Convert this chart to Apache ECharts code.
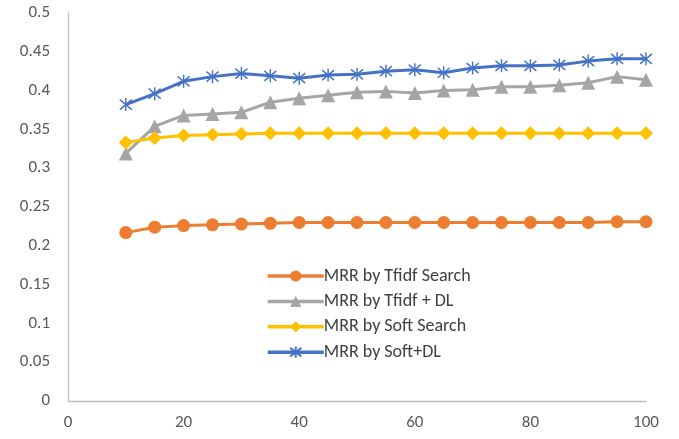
<!DOCTYPE html>
<html>
<head>
<meta charset="utf-8">
<script src="https://cdn.jsdelivr.net/npm/echarts@6/dist/echarts.min.js"></script>
<style>
  html, body { margin: 0; padding: 0; background: #fff; }
  #chart { width: 679px; height: 439px; }
</style>
</head>
<body>
<div id="chart"></div>
<script>
// Number of candidates considered (x axis)
const topK = [10, 15, 20, 25, 30, 35, 40, 45, 50, 55, 60, 65, 70, 75, 80, 85, 90, 95, 100];

// Series names
const seriesNames = ['MRR by Tfidf Search', 'MRR by Tfidf + DL', 'MRR by Soft Search', 'MRR by Soft+DL'];

// MRR values per series
const mrrTfidf = [0.217, 0.224, 0.226, 0.227, 0.228, 0.229, 0.230, 0.230, 0.230, 0.230, 0.230, 0.230, 0.230, 0.230, 0.230, 0.230, 0.230, 0.231, 0.231];
const mrrTfidfDL = [0.319, 0.354, 0.368, 0.370, 0.372, 0.385, 0.390, 0.394, 0.398, 0.399, 0.397, 0.400, 0.401, 0.405, 0.405, 0.407, 0.410, 0.418, 0.414];
const mrrSoft = [0.333, 0.339, 0.342, 0.343, 0.344, 0.345, 0.345, 0.345, 0.345, 0.345, 0.345, 0.345, 0.345, 0.345, 0.345, 0.345, 0.345, 0.345, 0.345];
const mrrSoftDL = [0.382, 0.396, 0.412, 0.418, 0.422, 0.419, 0.416, 0.420, 0.421, 0.425, 0.427, 0.423, 0.429, 0.432, 0.432, 0.433, 0.438, 0.441, 0.441];

const colors = ['#ED7D31', '#A5A5A5', '#FFC000', '#4472C4'];
const FONT = '"Liberation Sans Narrow", Carlito, "Liberation Sans", sans-serif';

// Asterisk marker: an X crossed by a vertical stroke
const asterisk = 'path://M0,0L10,10M10,0L0,10M5,-1.5L5,11.5';

function pairs(vals) {
  return topK.map((k, i) => [k, vals[i]]);
}

function lineSeries(idx, vals, symbol, size, extra) {
  return Object.assign({
    name: seriesNames[idx],
    type: 'line',
    data: pairs(vals),
    symbol: symbol,
    symbolSize: size,
    showAllSymbol: true,
    lineStyle: { color: colors[idx], width: 3 },
    itemStyle: { color: colors[idx], opacity: 1 },
    emphasis: { disabled: true },
    animation: false
  }, extra || {});
}

const chart = echarts.init(document.getElementById('chart'), null, { renderer: 'canvas' });

chart.setOption({
  backgroundColor: '#ffffff',
  textStyle: { fontFamily: FONT },
  grid: { left: 68, right: 33, top: 13, bottom: 38, containLabel: false },
  xAxis: {
    type: 'value',
    min: 0,
    max: 100,
    interval: 20,
    axisLine: { show: true, lineStyle: { color: '#BFBFBF', width: 1.3 } },
    axisTick: { show: false },
    splitLine: { show: false },
    axisLabel: { color: '#595959', fontSize: 17, fontFamily: FONT, margin: 13 }
  },
  yAxis: {
    type: 'value',
    min: 0,
    max: 0.5,
    interval: 0.05,
    axisLine: { show: true, lineStyle: { color: '#BFBFBF', width: 1.3 } },
    axisTick: { show: false },
    splitLine: { show: false },
    axisLabel: { color: '#595959', fontSize: 17, fontFamily: FONT, margin: 18 }
  },
  legend: {
    orient: 'vertical',
    left: 261,
    top: 262,
    itemWidth: 56,
    itemHeight: 14,
    itemGap: 7.4,
    lineStyle: { width: 3.5 },
    textStyle: { color: '#404040', fontSize: 18, lineHeight: 14, fontFamily: FONT, padding: [0, 0, 0, -5] },
    data: seriesNames
  },
  series: [
    lineSeries(0, mrrTfidf, 'circle', 13),
    lineSeries(1, mrrTfidfDL, 'triangle', 14),
    lineSeries(2, mrrSoft, 'diamond', 14),
    lineSeries(3, mrrSoftDL, asterisk, [12, 13], {
      itemStyle: { color: 'rgba(0,0,0,0)', borderColor: colors[3], borderWidth: 1.5, opacity: 1 }
    })
  ]
});
</script>
</body>
</html>
